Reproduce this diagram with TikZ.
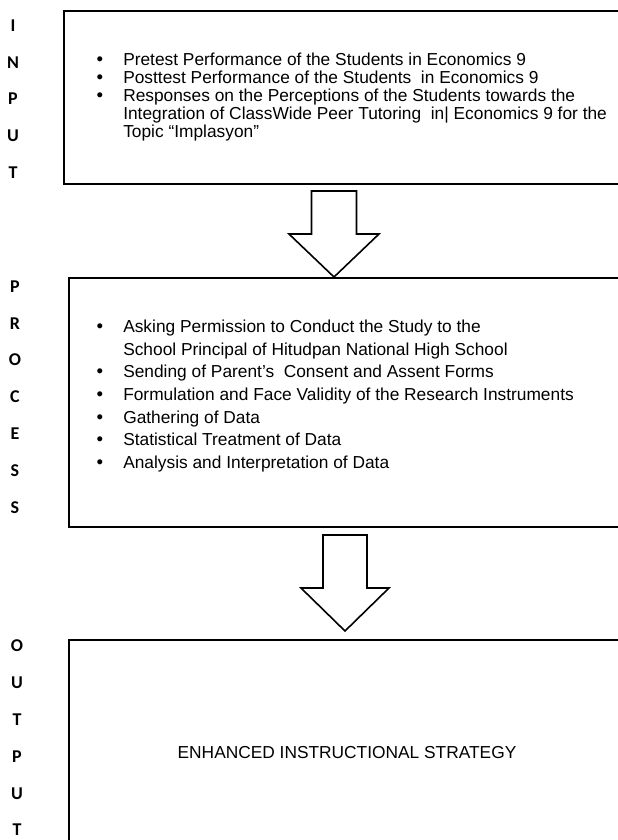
\documentclass[tikz,border=0pt]{standalone}
\usepackage{fontspec}
\setmainfont{Liberation Sans}
\newfontfamily\sidefont{Carlito}
\usepackage{tikz}

\newcommand{\blt}{\makebox[21pt][l]{\hspace{1pt}{\fontsize{14}{14}\selectfont\textbullet}}}
\newcommand{\nob}{\makebox[21pt][l]{}}

\begin{document}
\begin{tikzpicture}[x=0.75pt, y=-0.75pt]
\tikzstyle{box} = [rectangle, draw, line width=1.6pt, anchor=north west, inner sep=0pt]
\tikzstyle{listtext} = [anchor=west, align=left, inner sep=0pt, font=\fontsize{13}{13.4}\selectfont]
\tikzstyle{sideword} = [align=center, inner sep=0pt, font=\sidefont\bfseries\fontsize{13.5}{27.6}\selectfont]
\tikzstyle{blockarrow} = [line width=1.2pt, fill=white, line join=miter]

\useasboundingbox (0,0) rectangle (618,840);
\clip (0,0) rectangle (618,840);

% the three stages
\node[box, minimum width=432.75pt, minimum height=129.75pt] (input) at (63,10) {};
\node[box, minimum width=429pt, minimum height=186.75pt] (proc) at (68,277) {};
\node[box, minimum width=429pt, minimum height=165pt] (output) at (68,639) {};

% side labels
\node[sideword] (inlbl) at (13,99) {I\\N\\P\\U\\T};
\node[sideword] (proclbl) at (15,397) {P\\R\\O\\C\\E\\S\\S};
\node[sideword] (outlbl) at (17,738) {O\\U\\T\\P\\U\\T};

% box contents
\node[listtext] (intext) at (95,97) {%
\blt Pretest Performance of the Students in Economics 9\\
\blt Posttest Performance of the Students \ in Economics 9\\
\blt Responses on the Perceptions of the Students towards the\\
\nob Integration of ClassWide Peer Tutoring \ in| Economics 9 for the\\
\nob Topic ``Implasyon''};

\node[listtext, font=\fontsize{13}{16.9}\selectfont] (proctext) at (95,396) {%
\blt Asking Permission to Conduct the Study to the\\
\nob School Principal of Hitudpan National High School\\
\blt Sending of Parent's \ Consent and Assent Forms\\
\blt Formulation and Face Validity of the Research Instruments\\
\blt Gathering of Data\\
\blt Statistical Treatment of Data\\
\blt Analysis and Interpretation of Data};

\node[font=\fontsize{13}{14}\selectfont] (outtext) at (347,753) {ENHANCED INSTRUCTIONAL STRATEGY};

% block arrows between the stages
\coordinate (tip1) at (334,277);
\coordinate (tip2) at (345,631);
\draw[blockarrow] (tip1) -- ++(-45,-43) -- ++(22.5,0) -- ++(0,-43) -- ++(45,0) -- ++(0,43) -- ++(22.5,0) -- cycle;
\draw[blockarrow] (tip2) -- ++(-44,-43) -- ++(22,0) -- ++(0,-53) -- ++(44,0) -- ++(0,53) -- ++(22,0) -- cycle;
\end{tikzpicture}
\end{document}
